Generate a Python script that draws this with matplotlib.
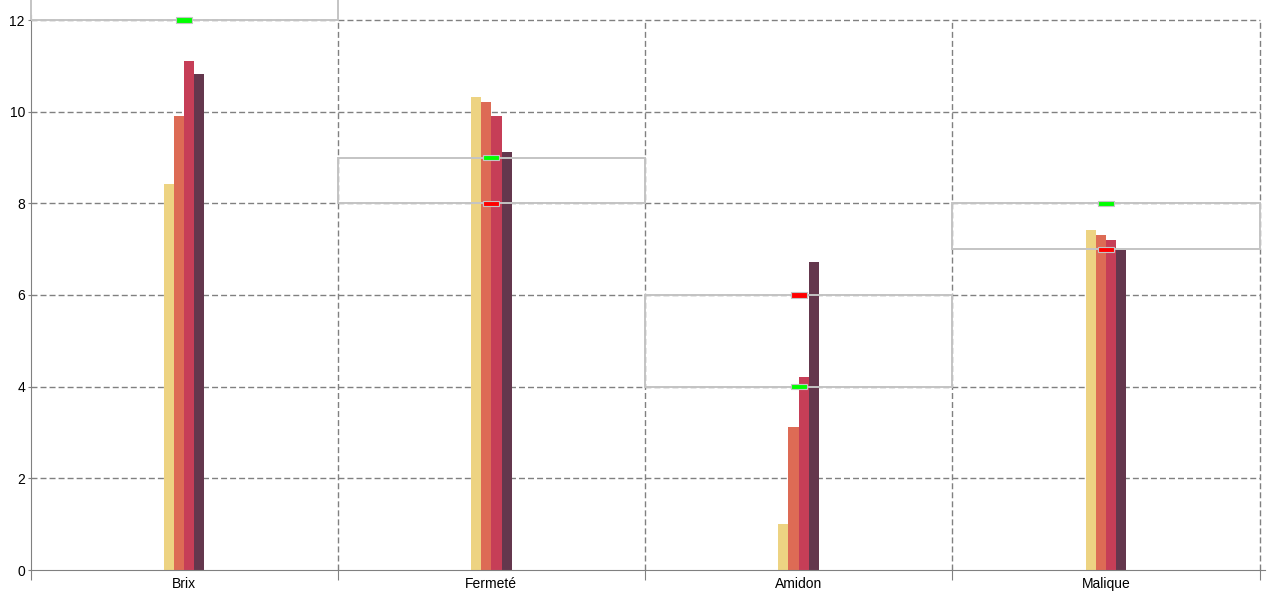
import matplotlib.pyplot as plt
from matplotlib.patches import Rectangle
import numpy as np

plt.rcParams['font.family'] = ['Liberation Sans', 'DejaVu Sans']

# données
categories = ["Brix", "Fermeté", "Amidon", "Malique"]
serie_1 = [8.42, 10.32, 1.0, 7.42]
serie_2 = [9.91, 10.21, 3.12, 7.31]
serie_3 = [11.1, 9.91, 4.21, 7.2]
serie_4 = [10.82, 9.12, 6.72, 6.98]
seuil_vert = [12, 9, 4, 8]
seuil_rouge = [13, 8, 6, 7]

couleurs = ["#EDD382", "#DD6B55", "#C63E57", "#64374D"]

fig = plt.figure(figsize=(12.8, 6), dpi=100)
ax = fig.add_axes([30.5 / 1280, 30 / 600, 1229 / 1280, 550 / 600])

x = np.arange(len(categories))
w = 0.033
series = [serie_1, serie_2, serie_3, serie_4]
for i, (s, c) in enumerate(zip(series, couleurs)):
    ax.bar(x + (i - 1.5) * w, s, width=w, color=c, zorder=2)

# zones entre seuils
for i in range(len(categories)):
    lo = min(seuil_vert[i], seuil_rouge[i])
    hi = max(seuil_vert[i], seuil_rouge[i])
    ax.add_patch(Rectangle((i - 0.5, lo), 1.0, hi - lo, fill=False,
                           edgecolor="#c4c4c4", lw=1.4, zorder=3, clip_on=False))

# marqueurs de seuil
mw, mh = 0.052, 0.11
for i in range(len(categories)):
    for val, col in [(seuil_vert[i], "#00ff00"), (seuil_rouge[i], "#ff0000")]:
        ax.add_patch(Rectangle((i - mw / 2, val - mh / 2), mw, mh,
                               facecolor=col, edgecolor="#c4c4c4", lw=0.8,
                               zorder=4, clip_on=False))

ax.set_xlim(-0.5, 3.5)
ax.set_ylim(0, 12)

# grille
tirets = (0, (4.3, 2.2))
for yv in [2, 4, 6, 8, 10, 12]:
    ax.axhline(yv, color="#808080", lw=1, ls=tirets, zorder=1, clip_on=False)
for xv in [0.5, 1.5, 2.5, 3.5]:
    ax.axvline(xv, color="#808080", lw=1, ls=tirets, zorder=1, clip_on=False)

ax.set_xticks([-0.5, 0.5, 1.5, 2.5, 3.5])
ax.set_xticklabels([])
ax.tick_params(axis='x', which='major', length=7, color="#808080")
ax.set_xticks(x, minor=True)
ax.set_xticklabels(categories, minor=True)
ax.tick_params(axis='x', which='minor', length=0, pad=5, labelsize=10)

ax.set_yticks([0, 2, 4, 6, 8, 10, 12])
ax.tick_params(axis='y', length=2, color="#808080", labelsize=10, pad=2)

for sp in ['top', 'right']:
    ax.spines[sp].set_visible(False)
ax.spines['left'].set_color("#808080")
ax.spines['bottom'].set_color("#808080")
ax.spines['left'].set_bounds(0, 12.12)
ax.spines['bottom'].set_bounds(-0.5, 3.517)

fig.savefig("out.png", dpi=100)
